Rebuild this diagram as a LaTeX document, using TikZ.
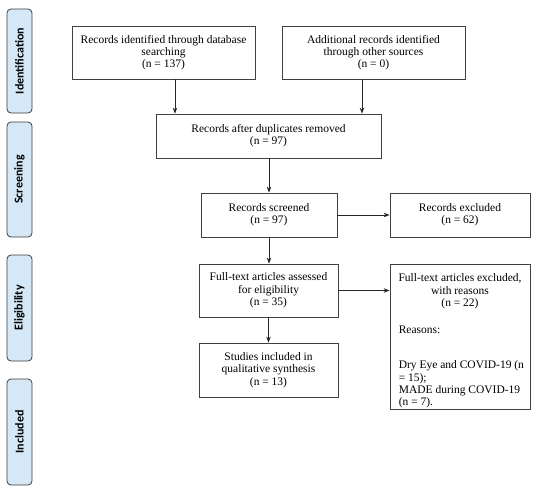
\documentclass[tikz,border=0pt]{standalone}
\usepackage{fontspec}
\setmainfont{Liberation Serif}
\newfontfamily\labfont{Carlito}
\usetikzlibrary{arrows.meta}
\definecolor{phase}{HTML}{D5E8F7}
\definecolor{phaseline}{HTML}{3C3C3C}
\definecolor{boxline}{HTML}{404040}
\tikzset{
  x=1pt,y=-1pt,
  box/.style={draw=boxline,line width=0.8pt,inner sep=2pt,align=center,
    font=\fontsize{11.5}{12.3}\selectfont},
  btext/.style={inner sep=0pt,font=\fontsize{11.5}{12.3}\selectfont},
  phasebox/.style={draw=phaseline,fill=phase,line width=0.8pt,rounded corners=4pt,
    minimum width=25pt,inner sep=0pt},
  phasetext/.style={rotate=90,font=\labfont\bfseries\fontsize{12}{14}\selectfont},
  arr/.style={draw=black!85,line width=0.8pt,-{Stealth[length=6pt,width=4.5pt]}}
}
\begin{document}
\begin{tikzpicture}
\useasboundingbox (0,0) rectangle (538,490);
% phase labels
\node[phasebox,minimum height=104pt] (p1) at (19.5,61) {};
\node[phasetext] (p1t) at (p1.center) {Identification};
\node[phasebox,minimum height=115pt] (p2) at (19.5,179.5) {};
\node[phasetext] (p2t) at (p2.center) {Screening};
\node[phasebox,minimum height=106pt] (p3) at (19.5,308) {};
\node[phasetext] (p3t) at (p3.center) {Eligibility};
\node[phasebox,minimum height=106pt] (p4) at (19.5,432) {};
\node[phasetext] (p4t) at (p4.center) {Included};
% boxes
\node[box,minimum width=183pt,minimum height=53pt] (b1) at (163.5,52.5)
  {Records identified through database\\searching\\(n = 137)};
\node[box,minimum width=183pt,minimum height=53pt] (b2) at (373.5,52.5)
  {Additional records identified\\through other sources\\(n = 0)};
\node[box,minimum width=225pt,minimum height=44pt] (b3) at (268.5,136)
  {Records after duplicates removed\\(n = 97)};
\node[box,minimum width=136pt,minimum height=44pt] (b4) at (269,215)
  {Records screened\\(n = 97)};
\node[box,minimum width=140pt,minimum height=44pt] (b5) at (460,215)
  {Records excluded\\(n = 62)};
\node[box,minimum width=139pt,minimum height=53pt] (b6) at (268.5,290.5)
  {Full-text articles assessed\\for eligibility\\(n = 35)};
\node[box,minimum width=139pt,minimum height=54pt] (b7) at (268.5,370)
  {Studies included in\\qualitative synthesis\\(n = 13)};
\node[box,minimum width=140pt,minimum height=145pt] (b8) at (460,336.5) {};
\node[btext,anchor=north,align=center] (b8a) at ([yshift=-10pt]b8.north)
  {Full-text articles excluded,\\with reasons\\(n = 22)};
\node[btext,anchor=north west,align=left] (b8b) at ([xshift=9pt,yshift=-62pt]b8.north west)
  {Reasons:};
\node[btext,anchor=north west,align=left] (b8c) at ([xshift=9pt,yshift=-97pt]b8.north west)
  {Dry Eye and COVID-19 (n\\= 15);\\MADE during COVID-19\\(n = 7).};
% connector x positions
\coordinate (c1) at (175,0);
\coordinate (c2) at (362,0);
% connectors
\draw[arr] (b1.south -| c1) -- (b3.north -| c1);
\draw[arr] (b2.south -| c2) -- (b3.north -| c2);
\draw[arr] (b3.south -| b4.north) -- (b4.north);
\draw[arr] (b4.east) -- (b5.west);
\draw[arr] (b4.south) -- (b4.south |- b6.north);
\draw[arr] (b6.east) -- (b8.west |- b6.east);
\draw[arr] (b6.south) -- (b7.north);
\end{tikzpicture}
\end{document}
